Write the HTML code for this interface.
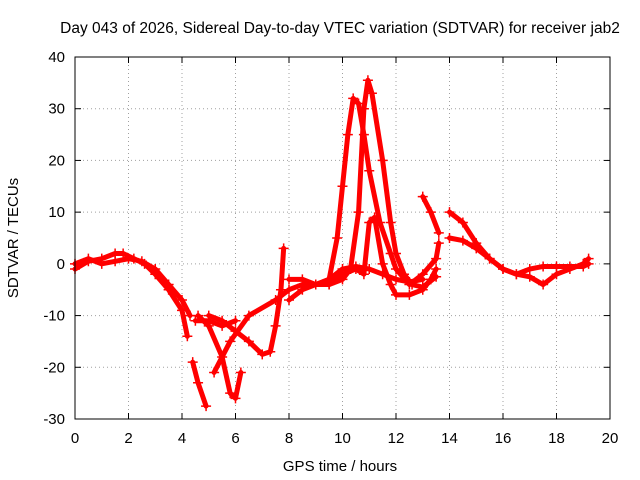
<!DOCTYPE html>
<html><head><meta charset="utf-8"><style>
body{margin:0;background:#fff}
svg{display:block;font-family:"Liberation Sans",sans-serif}
</style></head><body>
<svg id="c" width="640" height="480">
<text x="340" y="33" text-anchor="middle" font-size="15.5">Day 043 of 2026, Sidereal Day-to-day VTEC variation (SDTVAR) for receiver jab2</text>
<text x="340" y="471" text-anchor="middle" font-size="15">GPS time / hours</text>
<text transform="translate(18,238) rotate(-90)" text-anchor="middle" font-size="15">SDTVAR / TECUs</text>
<g id="grid"></g><g id="marks"></g>
<rect x="75" y="57" width="535" height="362" fill="none" stroke="#000"/>
</svg>
<script>
const xTicks=[0,2,4,6,8,10,12,14,16,18,20];
const yTicks=[-30,-20,-10,0,10,20,30,40];
const trackA=[[0,-1],[0.5,0.5],[1,1],[1.5,2],[1.8,2],[2.2,1],[2.6,0],[3,-2],[3.5,-5],[4,-9],[4.2,-14]];
const trackB=[[0,0],[0.5,1],[1,0],[1.5,0.5],[2,1],[2.5,0.5],[3,-1],[3.5,-4],[4,-7],[4.3,-10]];
const trackC=[[4.4,-19],[4.6,-23],[4.9,-27.5]];
const trackD=[[4.5,-11],[5,-11],[5.5,-12],[6,-11]];
const trackE=[[4.6,-10],[5,-12],[5.5,-18],[5.8,-25],[6,-26],[6.2,-21]];
const trackF=[[5,-10],[5.5,-11],[6,-13],[6.5,-15],[7,-17.5],[7.3,-17],[7.5,-12],[7.7,-5],[7.8,3]];
const trackG=[[5.2,-21],[5.8,-15],[6.5,-10],[7.5,-7],[8,-5],[8.5,-4],[9,-4],[9.5,-3],[10,-1],[10.5,-0.5],[11,-1],[11.5,-2],[12,-3],[12.5,-3.5],[13,-3]];
const trackH=[[8,-7],[8.5,-5],[9,-4],[9.5,-3],[9.8,5],[10,15],[10.2,25],[10.4,32],[10.6,31],[10.8,25],[11,18],[11.4,8],[11.8,2],[12,-1],[12.5,-4],[13,-2],[13.5,1],[13.6,4]];
const trackI=[[8,-3],[8.5,-3],[9,-4],[9.5,-4],[10,-3],[10.3,-1],[10.6,10],[10.8,30],[10.95,35.5],[11.1,33],[11.5,20],[11.8,8],[12,2],[12.3,-2],[12.6,-4],[13,-4.5],[13.5,-2.5]];
const trackJ=[[9.5,-4],[10,-2],[10.5,-1],[10.8,-2],[11,8],[11.2,9],[11.5,0],[11.8,-4],[12,-6],[12.5,-6],[13,-5],[13.3,-3],[13.5,-1]];
const trackK=[[13,13],[13.3,10],[13.6,6]];
const trackL=[[14,10],[14.5,8],[15,4],[15.5,1],[16,-1],[16.5,-2],[17,-2.5],[17.5,-4],[18,-2],[18.5,-1],[19,0],[19.2,1]];
const trackM=[[14,5],[14.5,4.5],[15,3],[15.5,1],[16,-1],[16.5,-2],[17,-1],[17.5,-0.5],[18,-0.5],[18.5,-0.5],[19,-0.5],[19.2,0]];
const tracks=[trackA,trackB,trackC,trackD,trackE,trackF,trackG,trackH,trackI,trackJ,trackK,trackL,trackM];
const NS="http://www.w3.org/2000/svg";
const X=v=>75+v/20*535, Y=v=>419-(v+30)/70*362;
const g=document.getElementById('grid'), m=document.getElementById('marks');
function el(p,t,a){const e=document.createElementNS(NS,t);for(const k in a)e.setAttribute(k,a[k]);p.appendChild(e);return e;}
xTicks.forEach(t=>{const x=X(t);
 if(t>0&&t<20){const l=el(g,'line',{x1:x,x2:x,y1:57,y2:419,stroke:'#a0a0a0','stroke-dasharray':'1,3'});
 
 }
 el(g,'line',{x1:x,x2:x,y1:419,y2:413,stroke:'#000'});el(g,'line',{x1:x,x2:x,y1:57,y2:63,stroke:'#000'});
 const tx=el(g,'text',{x:x,y:443,'text-anchor':'middle','font-size':15});tx.textContent=t;
 
 });
yTicks.forEach(t=>{const y=Y(t);
 if(t>-30&&t<40){const l=el(g,'line',{x1:75,x2:610,y1:y,y2:y,stroke:'#a0a0a0','stroke-dasharray':'1,3'});
 
 }
 el(g,'line',{x1:75,x2:81,y1:y,y2:y,stroke:'#000'});el(g,'line',{x1:610,x2:604,y1:y,y2:y,stroke:'#000'});
 const tx=el(g,'text',{x:65,y:y+5,'text-anchor':'end','font-size':15});tx.textContent=t;
 
 });
tracks.forEach((tr,i)=>{
 const p=el(m,'polyline',{points:tr.map(d=>X(d[0])+','+Y(d[1])).join(' '),fill:'none',stroke:'#f00','stroke-width':5,'stroke-linejoin':'round','stroke-linecap':'round'});
 
 
 tr.forEach(d=>{const x=X(d[0]),y=Y(d[1]);
  const c=el(m,'path',{d:`M${x-5},${y}H${x+5}M${x},${y-5}V${y+5}`,stroke:'#f00','stroke-width':1.5});
  
  });
});
</script>
</body></html>
